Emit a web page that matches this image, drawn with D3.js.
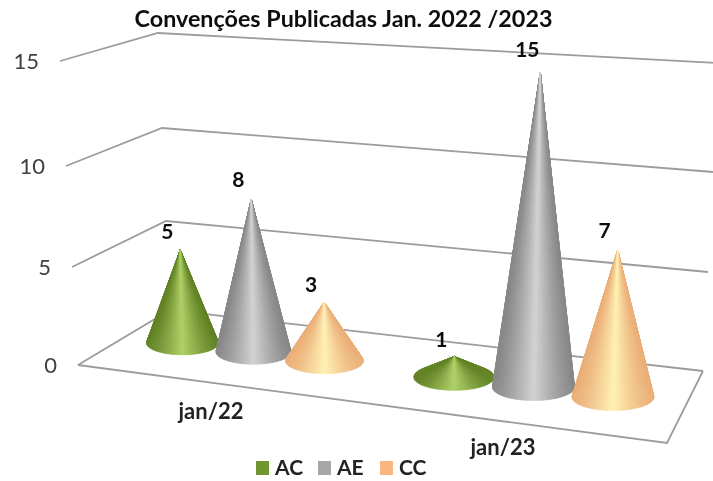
<!DOCTYPE html>
<html>
<head>
<meta charset="utf-8">
<script src="https://cdn.jsdelivr.net/npm/d3@7"></script>
<style>
    html, body { margin: 0; padding: 0; background: #fff; }
    svg { display: block; }
    text { font-family: Lato, "Open Sans", sans-serif; }
</style>
</head>
<body>
<div id="chart"></div>
<script>
const categories = ["jan/22", "jan/23"];
const seriesNames = ["AC", "AE", "CC"];
const valuesAC = [5, 1];
const valuesAE = [8, 15];
const valuesCC = [3, 7];
const yTicks = [0, 5, 10, 15];
const titleText = "Convenções Publicadas Jan. 2022 /2023";

const seriesValues = [valuesAC, valuesAE, valuesCC];

const width = 713, height = 481;

var svg = d3.select("#chart")
    .append("svg")
    .attr("width", width)
    .attr("height", height);

var defs = svg.append("defs");
defs.append("filter").attr("id", "soft")
    .append("feGaussianBlur").attr("stdDeviation", 0.5);
defs.append("filter").attr("id", "softText")
    .append("feGaussianBlur").attr("stdDeviation", 0.3);

// edge and highlight colours of each cone
const edgeColor = d3.scaleOrdinal().domain(seriesNames).range(["#628225", "#888888", "#eaae78"]);
const lightColor = d3.scaleOrdinal().domain(seriesNames).range(["#b0d168", "#d2d2d2", "#fff0b4"]);
const legendColor = d3.scaleOrdinal().domain(seriesNames).range(["#6f9632", "#a6a6a6", "#fdb67e"]);

// the group centre and how far apart the cones sit (the second group is nearer, so wider)
const xGroup = d3.scalePoint().domain(categories).range([253.5, 533.5]);
const groupSpread = d3.scaleOrdinal().domain(categories).range([71, 79.5]);
const xSeries = d3.scalePoint().domain(seriesNames).range([-1, 1]);

// floor of the chart runs downhill to the right
const floorY = d3.scaleLinear().domain([183, 613]).range([343, 397]);
const unitHeight = d3.scaleLinear().domain([183, 532]).range([18.6, 21]).clamp(true);
const coneRadius = d3.scaleLinear().domain([183, 324, 532]).range([36, 39, 41]).clamp(true);
// perspective: tips lean away from the middle of the chart
const lean = d3.scaleLinear().domain([183, 613]).range([-0.024, 0.032]);

// walls, one scale per corner of the 3D box
const leftX = d3.scaleLinear().domain(yTicks).range([78, 72, 66, 60]);
const leftY = d3.scaleLinear().domain(yTicks).range([365, 267, 166, 61]);
const backX = d3.scaleLinear().domain(yTicks).range([170, 166, 162, 158]);
const backY = d3.scaleLinear().domain(yTicks).range([310, 221, 128, 33]);
const rightX = d3.scaleLinear().domain(yTicks).range([703, 708, 713, 718]);
const rightY = d3.scaleLinear().domain(yTicks).range([371, 272, 172, 63]);

const line = d3.line();
const gridColor = "#9c9c9c";

var grid = svg.append("g").attr("filter", "url(#soft)");
yTicks.forEach(function (t) {
    grid.append("path")
        .attr("d", line([[leftX(t), leftY(t)], [backX(t), backY(t)], [rightX(t), rightY(t)]]))
        .attr("fill", "none")
        .attr("stroke", gridColor)
        .attr("stroke-width", 1.8);
});

// front edge of the floor
grid.append("path")
    .attr("d", line([[leftX(0), leftY(0)], [667, 443], [rightX(0), rightY(0)]]))
    .attr("fill", "none")
    .attr("stroke", gridColor)
    .attr("stroke-width", 1.8);

// Y axis labels
svg.append("g").attr("filter", "url(#softText)").selectAll("text")
    .data(yTicks)
    .enter()
    .append("text")
    .attr("x", function (d) { return leftX(d) - 21; })
    .attr("y", function (d) { return leftY(d) + 8; })
    .attr("text-anchor", "end")
    .attr("font-size", 22)
    .attr("fill", "#404040")
    .text(function (d) { return d; });

// cones: many thin triangles from the apex, so the shine converges at the tip
function drawCone(g, cx, cy, rx, ry, tipX, tipY, name) {
    const shade = d3.interpolateRgb(edgeColor(name), lightColor(name));
    const steps = 120;
    var slices = d3.range(steps).map(function (i) { return (i + 0.5) / steps * 2 * Math.PI; });
    // back of the cone first
    slices.sort(function (a, b) { return Math.sin(a) - Math.sin(b); });
    slices.forEach(function (a) {
        const da = Math.PI / steps * 1.3;
        const lit = Math.pow(Math.max(0, 1 - Math.abs(Math.cos(a))), 1.25);
        const c = shade(lit);
        g.append("path")
            .attr("d", line([
                [tipX, tipY],
                [cx + rx * Math.cos(a - da), cy + ry * Math.sin(a - da)],
                [cx + rx * Math.cos(a + da), cy + ry * Math.sin(a + da)]
            ]) + "Z")
            .attr("fill", c)
            .attr("stroke", c)
            .attr("stroke-width", 0.5);
    });
}

var cones = svg.append("g").attr("filter", "url(#soft)");
var labels = svg.append("g").attr("filter", "url(#softText)");

categories.forEach(function (cat, ci) {
    seriesNames.forEach(function (name, si) {
        const v = seriesValues[si][ci];
        const cx = xGroup(cat) + xSeries(name) * groupSpread(cat);
        const cy = floorY(cx);
        const rx = coneRadius(cx);
        const h = v * unitHeight(cx);
        const tipX = cx + h * lean(cx);
        const tipY = cy - h;
        drawCone(cones, cx, cy, rx, rx * 0.33, tipX, tipY, name);
        // taller cones push their label a little further up
        labels.append("text")
            .attr("x", tipX - 13)
            .attr("y", tipY - 9 - h * 0.02)
            .attr("text-anchor", "middle")
            .attr("font-size", 21)
            .attr("font-weight", "bold")
            .attr("fill", "#111")
            .text(v);
    });
});

// category labels below the floor
const xCategory = d3.scalePoint().domain(categories).range([211, 503]);
svg.append("g").attr("filter", "url(#softText)").selectAll("text")
    .data(categories)
    .enter()
    .append("text")
    .attr("x", function (d) { return xCategory(d); })
    .attr("y", function (d) { return floorY(xCategory(d)) + 72; })
    .attr("text-anchor", "middle")
    .attr("font-size", 22)
    .attr("font-weight", "bold")
    .attr("fill", "#222")
    .text(function (d) { return d; });

// title
svg.append("text")
    .attr("filter", "url(#softText)")
    .attr("x", 343.5)
    .attr("y", 27)
    .attr("text-anchor", "middle")
    .attr("font-size", 23.3)
    .attr("font-weight", "bold")
    .attr("fill", "#111")
    .text(titleText);

// legend
const xLegend = d3.scalePoint().domain(seriesNames).range([256, 380]);
var legend = svg.append("g").attr("filter", "url(#softText)").selectAll("g")
    .data(seriesNames)
    .enter()
    .append("g")
    .attr("transform", function (d) { return "translate(" + xLegend(d) + ",461)"; });
legend.append("rect")
    .attr("width", 13)
    .attr("height", 14)
    .attr("fill", function (d) { return legendColor(d); });
legend.append("text")
    .attr("x", 19)
    .attr("y", 14)
    .attr("font-size", 21)
    .attr("font-weight", "bold")
    .attr("fill", "#222")
    .text(function (d) { return d; });
</script>
</body>
</html>
